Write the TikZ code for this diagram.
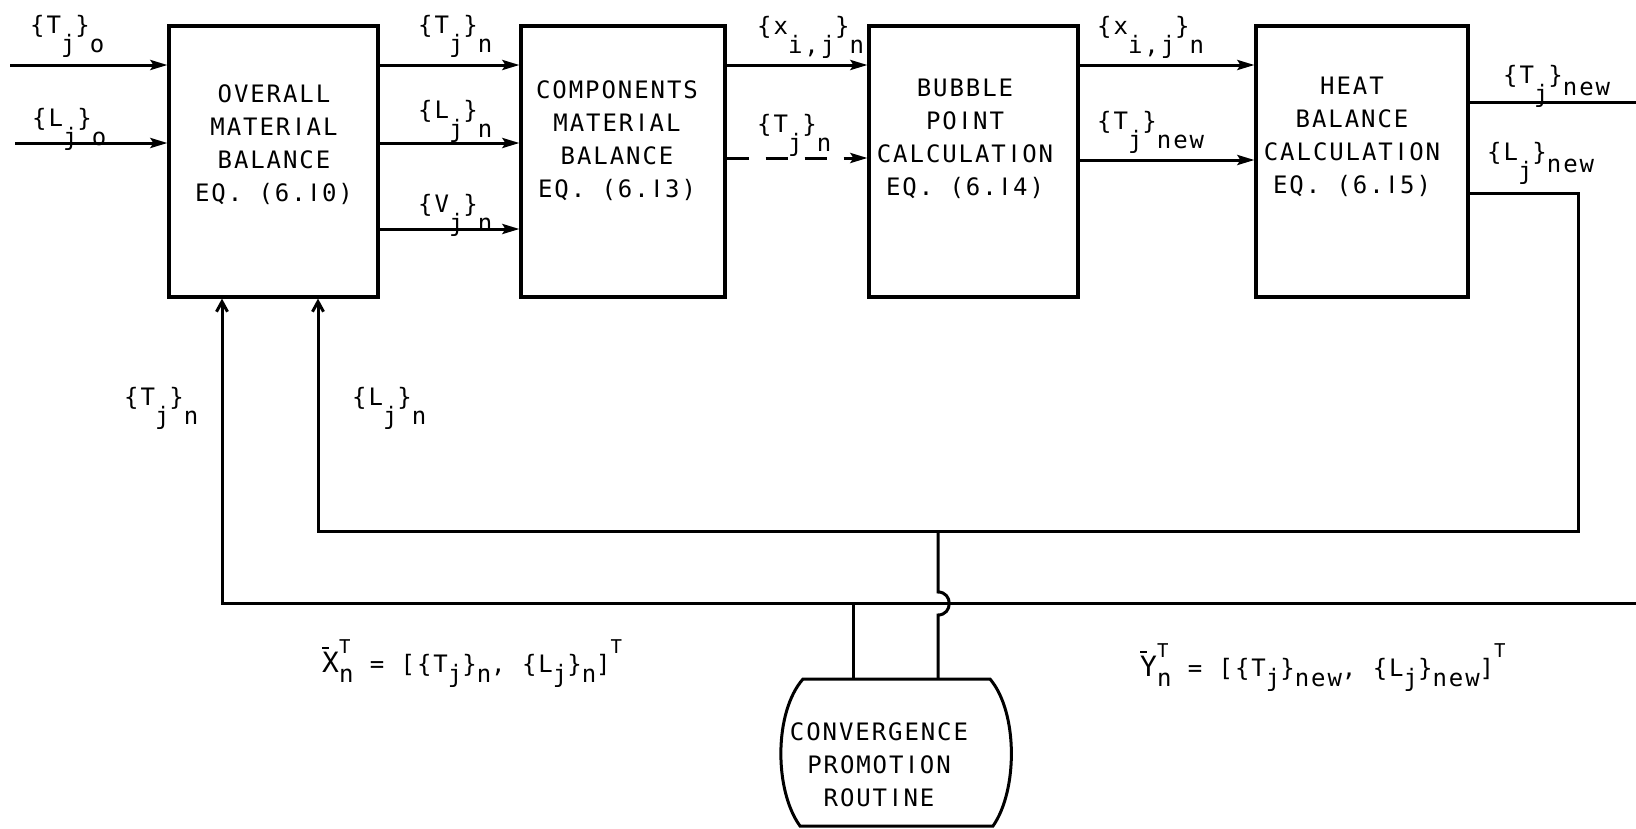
\documentclass[tikz,border=0pt]{standalone}
\usepackage{fontspec}
\setmainfont{DejaVu Sans Mono}[LetterSpace=8]
\newfontfamily\plainsans{DejaVu Sans}
\usetikzlibrary{arrows.meta}
\newcommand\cI{\makebox[0.682em]{\plainsans I}}
\newcommand\subdn[1]{\raisebox{-0.8em}{#1}}
\newcommand\subhalf[1]{\raisebox{-0.5em}{#1}}
\newcommand\eqdn[1]{\raisebox{-0.45em}{#1}}
\newcommand\supT{\raisebox{0.78em}{\fontsize{19}{20}\selectfont T}}
\newcommand\stkTn{\makebox[0pt][l]{\supT}\eqdn{n}}
\newcommand\barred[1]{\makebox[0pt][l]{\raisebox{0.95em}{\rule{7pt}{2pt}}}{\fontsize{28}{30}\selectfont #1}}
\begin{document}
\begin{tikzpicture}[x=1pt,y=-1pt,
  every node/.style={font=\fontsize{24}{33}\selectfont, inner sep=0pt},
  blk/.style={draw, line width=3.2pt, minimum width=#1, minimum height=271pt},
  con/.style={line width=3pt},
  arr/.style={con, -{Stealth[length=17pt,width=10pt,inset=3pt]}},
  uparr/.style={con, -{Straight Barb[length=10pt,width=11pt]}},
  lbl/.style={anchor=base west},
  txt/.style={align=center}]
\useasboundingbox (0,0) rectangle (1636,828);

% blocks
\node[blk=209pt] (b1) at (273.5,161.5) {};
\node[blk=204pt] (b2) at (623,161.5) {};
\node[blk=209pt] (b3) at (973.5,161.5) {};
\node[blk=212pt] (b4) at (1362,161.5) {};

\node[txt] (t1) at (274,145) {OVERALL\\MATER\cI{}AL\\BALANCE\\EQ. (6.\cI{}0)};
\node[txt] (t2) at (617,141) {COMPONENTS\\MATER\cI{}AL\\BALANCE\\EQ. (6.\cI{}3)};
\node[txt] (t3) at (965,139) {BUBBLE\\PO\cI{}NT\\CALCULAT\cI{}ON\\EQ. (6.\cI{}4)};
\node[txt] (t4) at (1352,137) {HEAT\\BALANCE\\CALCULAT\cI{}ON\\EQ. (6.\cI{}5)};

% level coordinates
\coordinate (r1) at (0,65);
\coordinate (r2) at (0,143);
\coordinate (r3) at (0,229);
\coordinate (rd) at (0,158);
\coordinate (rn) at (0,160);

% inputs
\coordinate (in1) at (10,65);
\coordinate (in2) at (15,143);
\draw[arr] (in1) -- (in1 -| b1.west);
\draw[arr] (in2) -- (in2 -| b1.west);

% b1 -> b2
\draw[arr] (b1.east |- r1) -- (b2.west |- r1);
\draw[arr] (b1.east |- r2) -- (b2.west |- r2);
\draw[arr] (b1.east |- r3) -- (b2.west |- r3);
% b2 -> b3
\draw[arr] (b2.east |- r1) -- (b3.west |- r1);
\draw[arr, dash pattern=on 22pt off 17pt] (b2.east |- rd) -- (b3.west |- rd);
% b3 -> b4
\draw[arr] (b3.east |- r1) -- (b4.west |- r1);
\draw[arr] (b3.east |- rn) -- (b4.west |- rn);

% outputs of b4
\coordinate (tout) at (1636,102);
\draw[con] (b4.east |- tout) -- (tout);
\coordinate (lc1) at (1578,193);
\coordinate (lc2) at (1578,531);
\coordinate (lc3) at (318,531);
\draw[uparr] (b4.east |- lc1) -- (lc1) -- (lc2) -- (lc3) -- (lc3 |- b1.south);
\coordinate (tin) at (1636,603);
\coordinate (tc1) at (222,603);
\draw[uparr] (tin) -- (tc1) -- (tc1 |- b1.south);

% convergence promotion routine
\draw[line width=3pt] (803,679) -- (990,679) .. controls (1018,712) and (1018,790) .. (993,826) -- (800,826) .. controls (774,790) and (774,712) .. (803,679) -- cycle;
\coordinate (ctop) at (897,679);
\node[txt] (conv) at (879,765) {CONVERGENCE\\PROMOT\cI{}ON\\ROUT\cI{}NE};
\coordinate (jl) at (938,531);
\coordinate (jt) at (853,603);
\coordinate (bp1) at (938,592);
\coordinate (bp2) at (938,615);
\draw[con] (jt) -- (jt |- ctop);
\draw[con] (jl) -- (bp1) .. controls +(15,0) and +(15,0) .. (bp2) -- (bp2 |- ctop);

% labels
\node[lbl] (l1) at (30,33) {\{T\subdn{j}\}\subdn{o}};
\node[lbl] (l2) at (32,126) {\{L\subdn{j}\}\subdn{o}};
\node[lbl] (l3) at (418,33) {\{T\subdn{j}\}\subdn{n}};
\node[lbl] (l4) at (418,118) {\{L\subdn{j}\}\subdn{n}};
\node[lbl] (l5) at (418,212) {\{V\subdn{j}\}\subdn{n}};
\node[lbl] (l6) at (757,34) {\{x\subdn{i,j}\}\subdn{n}};
\node[lbl] (l7) at (757,132) {\{T\subdn{j}\}\subdn{n}};
\node[lbl] (l8) at (1097,34) {\{x\subdn{i,j}\}\subdn{n}};
\node[lbl] (l9) at (1097,129) {\{T\subdn{j}\}\subdn{new}};
\node[lbl] (l10) at (1503,83) {\{T\subdn{j}\}\subhalf{new}};
\node[lbl] (l11) at (1487,160) {\{L\subdn{j}\}\subhalf{new}};
\node[lbl] (l12) at (124,405) {\{T\subdn{j}\}\subdn{n}};
\node[lbl] (l13) at (352,405) {\{L\subdn{j}\}\subdn{n}};

% equations
\node[lbl] (eqx) at (322,672) {\barred{X}\stkTn{} = [\{T\eqdn{j}\}\eqdn{n}, \{L\eqdn{j}\}\eqdn{n}]\supT};
\node[lbl] (eqy) at (1140,676) {\barred{Y}\stkTn{} = [\{T\eqdn{j}\}\eqdn{new}, \{L\eqdn{j}\}\eqdn{new}]\supT};
\end{tikzpicture}
\end{document}
